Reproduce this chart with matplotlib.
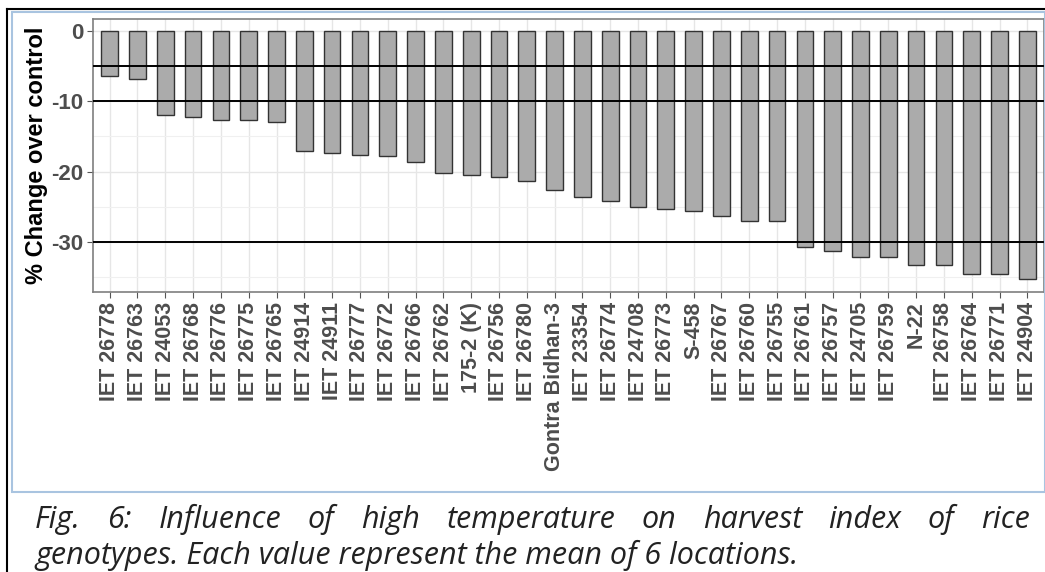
import numpy as np
import matplotlib
matplotlib.use("Agg")
import matplotlib.pyplot as plt
from matplotlib.lines import Line2D
from matplotlib.patches import Rectangle

genotypes = ["IET 26778", "IET 26763", "IET 24053", "IET 26768", "IET 26776",
             "IET 26775", "IET 26765", "IET 24914", "IET 24911", "IET 26777",
             "IET 26772", "IET 26766", "IET 26762", "175-2 (K)", "IET 26756",
             "IET 26780", "Gontra Bidhan-3", "IET 23354", "IET 26774", "IET 24708",
             "IET 26773", "S-458", "IET 26767", "IET 26760", "IET 26755",
             "IET 26761", "IET 26757", "IET 24705", "IET 26759", "N-22",
             "IET 26758", "IET 26764", "IET 26771", "IET 24904"]
change = [-6.4, -6.8, -12.0, -12.2, -12.7, -12.7, -12.9, -17.1, -17.4, -17.6,
          -17.8, -18.7, -20.2, -20.5, -20.8, -21.4, -22.6, -23.7, -24.2, -25.1,
          -25.4, -25.6, -26.3, -27.0, -27.1, -30.8, -31.3, -32.2, -32.2, -33.3,
          -33.4, -34.6, -34.7, -35.4]
ref_lines = [-5, -10, -30]
caption1 = "Fig. 6: Influence of high temperature on harvest index of rice"
caption2 = "genotypes. Each value represent the mean of 6 locations."

plt.rcParams['font.family'] = ['Liberation Sans', 'DejaVu Sans']

fig = plt.figure(figsize=(10.45, 5.72), dpi=100)
W, H = 1045, 572

# page decorations: black rules and the light blue frame of the pasted image
fig.add_artist(Line2D([7 / W, 1], [1 - 9 / H, 1 - 9 / H], color='black', lw=1.5))
fig.add_artist(Line2D([7 / W, 7 / W], [0, 1 - 9 / H], color='black', lw=1.5))
fig.add_artist(Rectangle((12 / W, 1 - 492 / H), (1045 - 12) / W, (492 - 12) / H,
                         fill=False, edgecolor='#a9c4e0', lw=1.5))

ax = fig.add_axes([93 / W, 1 - 292 / H, (1044 - 93) / W, (292 - 19) / H])
x = np.arange(len(genotypes))
ax.bar(x, change, width=0.6, color='#ababab', edgecolor='#333333', linewidth=1, zorder=2)
for y in ref_lines:
    ax.axhline(y, color='black', lw=1.4, zorder=3)

ax.set_xlim(-0.6, len(genotypes) - 0.4)
ax.set_ylim(-37.2, 1.77)
ax.set_yticks([0, -10, -20, -30])
ax.set_yticks([-5, -15, -25, -35], minor=True)
ax.set_yticklabels(["0", "-10", "-20", "-30"], fontsize=16, fontweight='bold', color='#4d4d4d')
ax.set_xticks(x)
ax.set_xticklabels(genotypes, rotation=90, fontsize=15.5, fontweight='bold', color='#4d4d4d')
ax.grid(True, which='major', color='#e6e6e6', lw=1, zorder=0)
ax.grid(True, which='minor', axis='y', color='#f0f0f0', lw=0.8, zorder=0)
ax.set_axisbelow(True)
ax.tick_params(axis='both', which='major', length=4, color='#555555', pad=3)
ax.tick_params(axis='y', which='minor', length=0)
for s in ax.spines.values():
    s.set_color('#7f7f7f')
    s.set_linewidth(1.2)
ax.set_ylabel("% Change over control", fontsize=17, fontweight='bold')
ax.yaxis.set_label_coords(-(93 - 48) / (1044 - 93), 0.5)

# justified italic caption
cap_font = dict(fontsize=22, style='italic', family=['Open Sans', 'DejaVu Sans'], color='#222222')
renderer = fig.canvas.get_renderer()
words = caption1.split()
texts = [fig.text(0, 1 - 528 / H, w, va='baseline', ha='left', **cap_font) for w in words]
widths = [t.get_window_extent(renderer).width for t in texts]
left, right = 35, 1030
gap = (right - left - sum(widths)) / (len(words) - 1)
pos = left
for t, w in zip(texts, widths):
    t.set_x(pos / W)
    pos += w + gap
fig.text(35 / W, 1 - 564 / H, caption2, va='baseline', ha='left', **cap_font)

fig.savefig("out.png", dpi=100, facecolor='white')
